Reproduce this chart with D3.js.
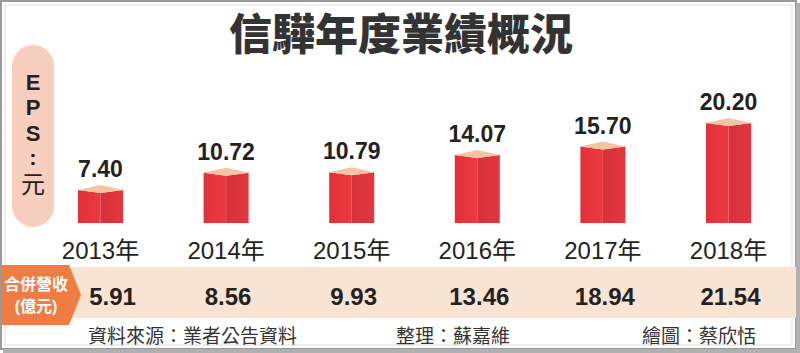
<!DOCTYPE html>
<html>
<head>
<meta charset="utf-8">
<script src="https://cdn.jsdelivr.net/npm/d3@7"></script>
<style>
  body { margin: 0; background: #fff; }
  text { font-family: "Liberation Sans", "Noto Sans CJK TC", sans-serif; }
</style>
</head>
<body>
<script>
const WIDTH = 800;
const HEIGHT = 353;

// datos
const years = ["2013", "2014", "2015", "2016", "2017", "2018"];
const eps = [7.40, 10.72, 10.79, 14.07, 15.70, 20.20];
const revenue = [5.91, 8.56, 9.93, 13.46, 18.94, 21.54];
const title = "信驊年度業績概況";
const epsLabel = ["E", "P", "S", ":", "元"];
const revLabel = ["合併營收", "(億元)"];
const footer = ["資料來源：業者公告資料", "整理：蘇嘉維", "繪圖：蔡欣恬"];

const svg = d3.select("body")
    .append("svg")
    .attr("width", WIDTH)
    .attr("height", HEIGHT);

const defs = svg.append("defs");
const gLeft = defs.append("linearGradient").attr("id", "caraIzq");
gLeft.append("stop").attr("offset", "0%").attr("stop-color", "#e2303a");
gLeft.append("stop").attr("offset", "100%").attr("stop-color", "#ec3a3f");
const gRight = defs.append("linearGradient").attr("id", "caraDer");
gRight.append("stop").attr("offset", "0%").attr("stop-color", "#d6313a");
gRight.append("stop").attr("offset", "100%").attr("stop-color", "#e4373d");

// marco
svg.append("rect")
    .attr("x", 0).attr("y", 0).attr("width", WIDTH).attr("height", HEIGHT)
    .attr("fill", "#fff");
svg.append("rect")
    .attr("x", 1).attr("y", 1).attr("width", 795).attr("height", 348)
    .attr("fill", "none").attr("stroke", "#9a9a9a").attr("stroke-width", 2);
svg.append("rect")
    .attr("x", 796).attr("y", 3).attr("width", 4).attr("height", 350)
    .attr("fill", "#b0b0b0");
svg.append("rect")
    .attr("x", 3).attr("y", 349).attr("width", 797).attr("height", 4)
    .attr("fill", "#b0b0b0");
svg.append("rect")
    .attr("x", 5).attr("y", 5).attr("width", 787).attr("height", 340)
    .attr("fill", "none").attr("stroke", "#dedede").attr("stroke-width", 1);

// titulo
svg.append("text")
    .attr("x", 401).attr("y", 50)
    .attr("text-anchor", "middle")
    .attr("font-size", 43).attr("font-weight", "900")
    .attr("fill", "#333")
    .text(title);

// etiqueta EPS
svg.append("rect")
    .attr("x", 12).attr("y", 45).attr("width", 42).attr("height", 182)
    .attr("rx", 21)
    .attr("fill", "#f8cfbf");
const epsY = [82, 107, 133, 157, 184];
svg.selectAll(".epsLab")
    .data(epsLabel)
    .join("text")
    .attr("class", "epsLab")
    .attr("x", 33)
    .attr("y", (d, i) => epsY[i])
    .attr("text-anchor", "middle")
    .attr("dominant-baseline", "central")
    .attr("font-size", (d) => d === "元" ? 24 : 22)
    .attr("font-weight", (d) => d === "元" ? "normal" : "bold")
    .attr("fill", "#222")
    .text((d) => d);

// franja de ingresos
svg.append("rect")
    .attr("x", 2).attr("y", 267).attr("width", 794).attr("height", 51)
    .attr("fill", "#f9e4d4");
svg.append("path")
    .attr("d", "M2,265 L69,265 L81,295 L69,325 L2,325 Z")
    .attr("fill", "#ef7c43");
svg.selectAll(".revLab")
    .data(revLabel)
    .join("text")
    .attr("class", "revLab")
    .attr("x", 36)
    .attr("y", (d, i) => 284 + i * 22)
    .attr("text-anchor", "middle")
    .attr("dominant-baseline", "central")
    .attr("font-size", 16).attr("font-weight", "bold")
    .attr("fill", "#fff")
    .text((d) => d);

// escalas
const x = d3.scalePoint().domain(years).range([100.5, 728.5]);
const y = d3.scaleLinear().domain([1.1, 20.2]).range([223, 123]);
const halfW = 22.5;
const bottom = y(1.1);

const barras = svg.selectAll(".barra")
    .data(years.map((d, i) => ({ year: d, eps: eps[i], rev: revenue[i] })))
    .join("g")
    .attr("class", "barra");

barras.append("path")
    .attr("fill", "url(#caraIzq)")
    .attr("d", (d) => {
        const cx = x(d.year), t = y(d.eps);
        return `M${cx - halfW},${t} L${cx},${t + 3} L${cx},${bottom} L${cx - halfW},${bottom} Z`;
    });
barras.append("path")
    .attr("fill", "url(#caraDer)")
    .attr("d", (d) => {
        const cx = x(d.year), t = y(d.eps);
        return `M${cx},${t + 3} L${cx + halfW},${t} L${cx + halfW},${bottom} L${cx},${bottom} Z`;
    });
barras.append("path")
    .attr("fill", "#f5c3a2")
    .attr("d", (d) => {
        const cx = x(d.year), t = y(d.eps);
        return `M${cx - halfW},${t} L${cx},${t - 5} L${cx + halfW},${t} L${cx},${t + 3} Z`;
    });

barras.append("text")
    .attr("x", (d) => x(d.year))
    .attr("y", (d) => y(d.eps) - 13)
    .attr("text-anchor", "middle")
    .attr("font-size", 23).attr("font-weight", "bold")
    .attr("fill", "#222")
    .text((d) => d.eps.toFixed(2));

barras.append("text")
    .attr("x", (d) => x(d.year))
    .attr("y", 259)
    .attr("text-anchor", "middle")
    .attr("font-size", 24)
    .attr("fill", "#222")
    .text((d) => d.year + "年");

// el primer valor se corre para no tocar la flecha naranja
barras.append("text")
    .attr("x", (d, i) => x(d.year) + (i === 0 ? 12 : 2))
    .attr("y", 305)
    .attr("text-anchor", "middle")
    .attr("font-size", 24).attr("font-weight", "bold")
    .attr("fill", "#222")
    .text((d) => d.rev.toFixed(2));

// pie
const footX = [88, 396, 642];
svg.selectAll(".pie")
    .data(footer)
    .join("text")
    .attr("class", "pie")
    .attr("x", (d, i) => footX[i])
    .attr("y", 343)
    .attr("font-size", 19)
    .attr("fill", "#333")
    .text((d) => d);
</script>
</body>
</html>
